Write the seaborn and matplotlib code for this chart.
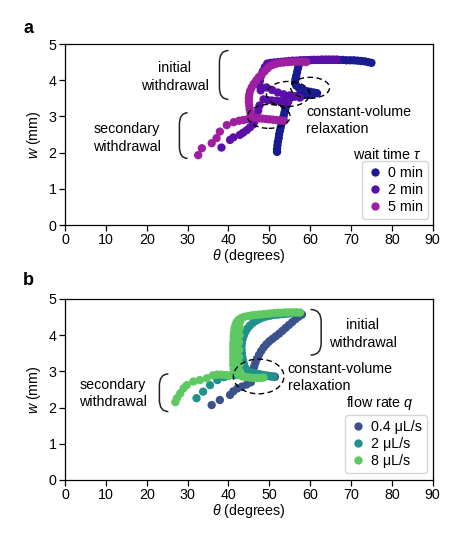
import numpy as np
import pandas as pd
import matplotlib
matplotlib.use("Agg")
import matplotlib.pyplot as plt
from matplotlib.patches import Ellipse, PathPatch
from matplotlib.path import Path
import seaborn as sns

# ---------------- data: panel a (wait time) ----------------
wait_labels = ["0 min", "2 min", "5 min"]
wait_colors = ["#1b1a8e", "#5a0fa8", "#a01fa0"]

theta_0min = [75.0, 74.2, 73.4, 72.5, 71.6, 70.7, 69.8, 68.9, 68.0, 67.1, 66.2, 65.3, 64.4, 63.5,
              62.6, 61.7, 60.8, 59.9, 59.0, 58.2, 57.5,
              57.2, 57.0, 56.8, 56.6, 56.4, 56.3, 56.6, 57.3, 58.2, 59.1, 60.0, 60.9, 61.7,
              60.6, 59.4, 58.2, 57.0, 56.0, 55.0,
              54.5, 54.2, 53.9, 53.7, 53.5, 53.2, 53.0, 52.8, 52.6, 52.4, 52.3, 52.1, 52.0, 51.9, 51.9]
w_0min = [4.48, 4.50, 4.52, 4.53, 4.54, 4.55, 4.55, 4.55, 4.56, 4.56, 4.56, 4.56, 4.56, 4.56,
          4.56, 4.56, 4.56, 4.55, 4.55, 4.54, 4.52,
          4.42, 4.32, 4.22, 4.12, 4.02, 3.93, 3.85, 3.78, 3.73, 3.70, 3.68, 3.66, 3.64,
          3.62, 3.60, 3.58, 3.57, 3.55, 3.50,
          3.40, 3.30, 3.20, 3.10, 3.00, 2.90, 2.80, 2.70, 2.60, 2.50, 2.40, 2.30, 2.20, 2.10, 2.02]

theta_2min = [66.5, 65.6, 64.7, 63.8, 62.9, 62.0, 61.1, 60.2, 59.3, 58.4, 57.5, 56.6, 55.7, 54.8,
              53.9, 53.0, 52.1, 51.2, 50.3, 49.5,
              48.9, 48.4, 48.0, 47.7, 47.7, 47.9,
              49.3, 50.7, 52.1, 53.5, 55.0, 56.4, 57.5,
              48.6, 49.6, 50.6, 51.6, 52.6, 53.6, 54.6,
              47.6, 47.3, 46.9, 46.5, 46.1, 45.3, 44.5, 43.6, 42.8, 41.2, 40.4, 38.3]
w_2min = [4.57, 4.57, 4.57, 4.57, 4.57, 4.56, 4.56, 4.56, 4.55, 4.55, 4.55, 4.54, 4.54, 4.53,
          4.52, 4.51, 4.50, 4.49, 4.48, 4.46,
          4.36, 4.24, 4.12, 3.98, 3.84, 3.72,
          3.80, 3.73, 3.66, 3.61, 3.58, 3.55, 3.52,
          3.47, 3.45, 3.44, 3.43, 3.42, 3.41, 3.40,
          3.30, 3.16, 3.02, 2.89, 2.78, 2.70, 2.62, 2.55, 2.49, 2.42, 2.35, 2.14]

theta_5min = [59.0, 58.1, 57.2, 56.3, 55.4, 54.5, 53.6, 52.7, 51.8, 51.0, 50.2,
              49.5, 48.8, 48.1, 47.4, 46.8, 46.2, 45.7, 45.3, 45.1, 45.0, 45.0, 45.1, 45.2, 45.4, 45.6,
              46.4, 47.3, 48.2, 49.1, 50.0, 50.9, 51.8, 52.7, 53.6,
              44.6, 43.6, 42.6, 41.3, 39.6, 37.9, 37.1, 35.9, 33.5, 32.6]
w_5min = [4.50, 4.51, 4.51, 4.51, 4.51, 4.50, 4.49, 4.48, 4.46, 4.43, 4.39,
          4.32, 4.24, 4.16, 4.08, 3.99, 3.90, 3.80, 3.70, 3.60, 3.50, 3.40, 3.30, 3.20, 3.10, 3.02,
          2.97, 2.95, 2.94, 2.93, 2.92, 2.91, 2.90, 2.89, 2.88,
          2.92, 2.90, 2.88, 2.84, 2.76, 2.58, 2.40, 2.26, 2.12, 1.93]

# ---------------- data: panel b (flow rate) ----------------
flow_labels = ["0.4 μL/s", "2 μL/s", "8 μL/s"]
flow_colors = ["#3b528b", "#21918c", "#5ec962"]

theta_q04 = [58.0, 57.2, 56.4, 55.6, 54.8, 54.0, 53.2, 52.4, 51.6, 50.8, 50.0, 49.3, 48.6, 48.0,
             47.5, 47.0, 46.6, 46.3, 46.0,
             46.5, 47.5, 48.5, 49.5, 50.5, 51.4,
             45.5, 44.5, 43.3, 42.2, 41.2, 40.4, 37.9, 35.9]
w_q04 = [4.57, 4.51, 4.44, 4.36, 4.28, 4.20, 4.12, 4.04, 3.97, 3.90, 3.83, 3.75, 3.66, 3.56,
         3.46, 3.35, 3.24, 3.13, 3.03,
         2.95, 2.92, 2.90, 2.88, 2.86, 2.85,
         2.70, 2.64, 2.58, 2.53, 2.45, 2.35, 2.21, 2.07]

theta_q2 = [57.5, 56.6, 55.7, 54.8, 53.9, 53.0, 52.1, 51.2, 50.3, 49.4, 48.5, 47.6, 46.8, 46.0,
            45.3, 44.7, 44.2, 43.8, 43.5, 43.3, 43.2, 43.2, 43.3, 43.4, 43.6, 43.8, 44.1,
            44.8, 45.7, 46.6, 47.5, 48.4, 49.3, 50.2, 51.1,
            42.0, 41.0, 40.0, 38.9, 37.3, 35.5, 33.8, 32.2]
w_q2 = [4.62, 4.62, 4.61, 4.60, 4.59, 4.58, 4.57, 4.56, 4.54, 4.52, 4.49, 4.45, 4.40, 4.34,
        4.27, 4.19, 4.10, 4.00, 3.90, 3.80, 3.70, 3.60, 3.50, 3.40, 3.30, 3.20, 3.10,
        3.02, 2.97, 2.94, 2.92, 2.90, 2.88, 2.87, 2.86,
        2.90, 2.90, 2.88, 2.84, 2.76, 2.62, 2.44, 2.26]

theta_q8 = [57.5, 56.6, 55.7, 54.8, 53.9, 53.0, 52.1, 51.2, 50.3, 49.4, 48.5, 47.6, 46.7, 45.8,
            44.9, 44.0, 43.2, 42.5, 42.0, 41.7, 41.5, 41.4, 41.3, 41.3, 41.2, 41.2, 41.2, 41.2,
            41.2, 41.2, 41.2, 41.3, 41.4,
            42.9, 42.8, 42.7, 42.6, 42.6, 42.6, 42.7, 42.8,
            42.5, 43.4, 44.3, 45.2, 46.1, 47.0, 47.9, 48.6,
            40.2, 39.2, 38.2, 37.2, 36.2, 34.7, 33.0, 31.4, 29.8, 29.0, 28.2, 27.4, 27.0]
w_q8 = [4.62, 4.63, 4.63, 4.63, 4.63, 4.62, 4.62, 4.61, 4.60, 4.59, 4.58, 4.57, 4.56, 4.55,
        4.53, 4.51, 4.48, 4.43, 4.36, 4.27, 4.18, 4.08, 3.98, 3.88, 3.78, 3.68, 3.58, 3.48,
        3.38, 3.28, 3.18, 3.08, 2.98,
        4.38, 4.20, 4.00, 3.80, 3.60, 3.40, 3.20, 3.00,
        2.90, 2.86, 2.84, 2.83, 2.82, 2.82, 2.82, 2.83,
        2.88, 2.90, 2.91, 2.91, 2.89, 2.81, 2.76, 2.72, 2.62, 2.53, 2.39, 2.26, 2.15]

x_ticks = [0, 10, 20, 30, 40, 50, 60, 70, 80, 90]
y_ticks = [0, 1, 2, 3, 4, 5]

# ---------------- style ----------------
sns.set_style("ticks")
plt.rcParams["font.family"] = ["Liberation Sans", "DejaVu Sans"]
plt.rcParams["mathtext.fontset"] = "custom"
plt.rcParams["mathtext.it"] = "Liberation Sans:italic"
plt.rcParams["mathtext.rm"] = "Liberation Sans"
for key in ["text.color", "axes.labelcolor", "xtick.color", "ytick.color",
            "xtick.labelcolor", "ytick.labelcolor"]:
    plt.rcParams[key] = "black"

FS = 10.3
fig = plt.figure(figsize=(4.69, 5.36), dpi=100)
ax1 = fig.add_axes([0.1386, 0.5802, 0.784, 0.3377])
ax2 = fig.add_axes([0.1386, 0.1045, 0.784, 0.3377])

df_a = pd.concat([
    pd.DataFrame({"theta": theta_0min, "w": w_0min, "tau": wait_labels[0]}),
    pd.DataFrame({"theta": theta_2min, "w": w_2min, "tau": wait_labels[1]}),
    pd.DataFrame({"theta": theta_5min, "w": w_5min, "tau": wait_labels[2]}),
], ignore_index=True)
df_b = pd.concat([
    pd.DataFrame({"theta": theta_q04, "w": w_q04, "q": flow_labels[0]}),
    pd.DataFrame({"theta": theta_q2, "w": w_q2, "q": flow_labels[1]}),
    pd.DataFrame({"theta": theta_q8, "w": w_q8, "q": flow_labels[2]}),
], ignore_index=True)

sns.scatterplot(data=df_a, x="theta", y="w", hue="tau", hue_order=wait_labels,
                palette=wait_colors, s=36, linewidth=0, ax=ax1)
sns.scatterplot(data=df_b, x="theta", y="w", hue="q", hue_order=flow_labels,
                palette=flow_colors, s=36, linewidth=0, ax=ax2)


def bracket(ax, x_vert, x_end, y_top, y_bot, r=0.33):
    verts = [(x_end, y_top), (x_vert, y_top), (x_vert, y_top - r),
             (x_vert, y_bot + r), (x_vert, y_bot), (x_end, y_bot)]
    codes = [Path.MOVETO, Path.CURVE3, Path.CURVE3, Path.LINETO, Path.CURVE3, Path.CURVE3]
    ax.add_patch(PathPatch(Path(verts, codes), fill=False, lw=1.1, edgecolor="#222222"))


for ax in (ax1, ax2):
    ax.set_xlim(0, 90)
    ax.set_ylim(0, 5)
    ax.set_xticks(x_ticks)
    ax.set_yticks(y_ticks)
    ax.tick_params(labelsize=FS, length=4, width=0.9, pad=2, colors="black")
    ax.set_xlabel(r"$\theta$ (degrees)", fontsize=FS, labelpad=0, color="black")
    ax.set_ylabel(r"$w$ (mm)", fontsize=FS, labelpad=4, color="black")
    for sp in ax.spines.values():
        sp.set_visible(True)
        sp.set_linewidth(0.9)
        sp.set_color("black")

# ---- panel a annotations ----
ax1.text(26.9, 4.09, "initial\nwithdrawal", ha="center", va="center", fontsize=FS, linespacing=1.3)
ax1.text(15.2, 2.40, "secondary\nwithdrawal", ha="center", va="center", fontsize=FS, linespacing=1.3)
ax1.text(59.1, 2.89, "constant-volume\nrelaxation", ha="left", va="center", fontsize=FS, linespacing=1.3)
bracket(ax1, 37.8, 40.0, 4.82, 3.47)
bracket(ax1, 28.0, 30.0, 3.10, 1.84)
for (cx, cy, ew, eh) in [(60.0, 3.79, 9.5, 0.58), (54.6, 3.62, 10.6, 0.69), (49.9, 3.0, 10.4, 0.66)]:
    ax1.add_patch(Ellipse((cx, cy), ew, eh, fill=False, ls=(0, (4, 2.5)), lw=1.0, edgecolor="black"))

h, l = ax1.get_legend_handles_labels()
ax1.legend(h, l, loc="lower right", bbox_to_anchor=(0.988, 0.035), borderaxespad=0,
           fontsize=FS, handletextpad=0.3, labelspacing=0.2, borderpad=0.35, handlelength=1.2)
ax1.text(0.876, 0.387, r"wait time $\tau$", transform=ax1.transAxes, ha="center", va="center",
         fontsize=FS)

# ---- panel b annotations ----
ax2.text(72.9, 4.03, "initial\nwithdrawal", ha="center", va="center", fontsize=FS, linespacing=1.3)
ax2.text(11.7, 2.39, "secondary\nwithdrawal", ha="center", va="center", fontsize=FS, linespacing=1.3)
ax2.text(54.5, 2.83, "constant-volume\nrelaxation", ha="left", va="center", fontsize=FS, linespacing=1.3)
bracket(ax2, 62.7, 60.1, 4.71, 3.45)
bracket(ax2, 23.1, 25.3, 2.93, 1.89)
ax2.add_patch(Ellipse((47.4, 2.86), 12.4, 0.96, fill=False, ls=(0, (4, 2.5)), lw=1.0, edgecolor="black"))

h, l = ax2.get_legend_handles_labels()
ax2.legend(h, l, loc="lower right", bbox_to_anchor=(0.985, 0.039), borderaxespad=0,
           fontsize=FS, handletextpad=0.3, labelspacing=0.2, borderpad=0.35, handlelength=1.2)
ax2.text(0.857, 0.425, r"flow rate $q$", transform=ax2.transAxes, ha="center", va="center",
         fontsize=FS)

fig.text(0.061, 0.946, "a", fontsize=13, fontweight="bold", ha="center", va="center")
fig.text(0.061, 0.476, "b", fontsize=13, fontweight="bold", ha="center", va="center")

fig.savefig("out.png", dpi=100)
